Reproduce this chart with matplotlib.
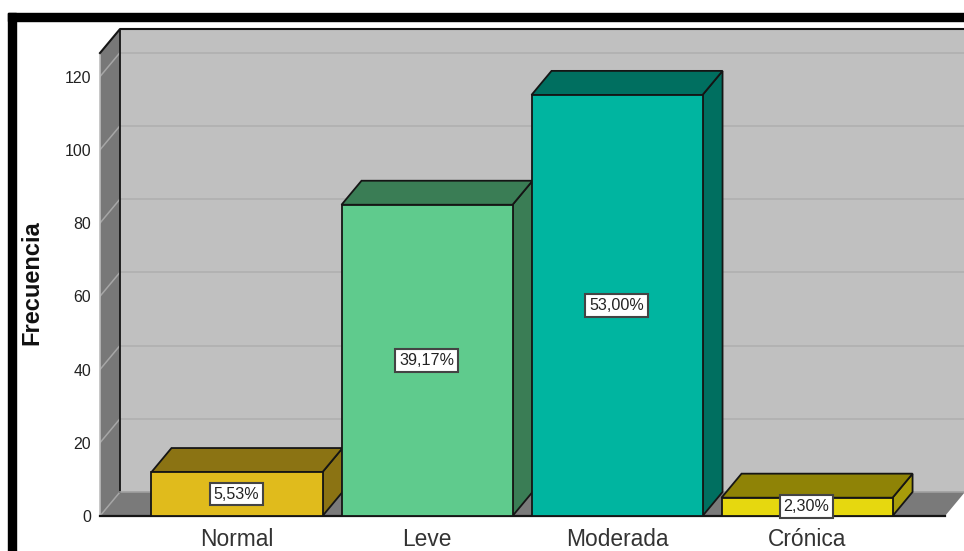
import matplotlib
matplotlib.use('Agg')
import matplotlib.pyplot as plt
from matplotlib.patches import Polygon, Rectangle

plt.rcParams['font.family'] = ['Liberation Sans', 'DejaVu Sans']

# Data
categories = ['Normal', 'Leve', 'Moderada', 'Crónica']
counts = [12, 85, 115, 5]
percents = ['5,53%', '39,17%', '53,00%', '2,30%']
yticks = [0, 20, 40, 60, 80, 100, 120]

front_colors = ['#E0BB1C', '#5FCB8D', '#00B5A0', '#E6D80F']
top_colors = ['#8B7313', '#3A7D55', '#006F60', '#8F8306']
side_colors = ['#8B7313', '#3A7D55', '#006F60', '#A89C0A']

W, H = 964, 551
fig = plt.figure(figsize=(W / 100, H / 100), dpi=100, facecolor='white')

# black frame, only top and left are visible
fig.add_artist(Rectangle((8 / W, 0), 8 / W, 1 - 13 / H, transform=fig.transFigure, color='black'))
fig.add_artist(Rectangle((8 / W, 1 - 21 / H), 1, 8 / H, transform=fig.transFigure, color='black'))

ax = fig.add_axes([100 / W, 35 / H, 864 / W, 487 / H])
ax.patch.set_visible(False)
xmin, xmax = -0.721, 3.826
ytop = 133
ax.set_xlim(xmin, xmax)
ax.set_ylim(0, ytop)

# depth of the fake 3D effect, in data units
dx = 20 / 190
dy = 24 / 3.658
bar_w = 0.9
floor_end = 3.726
edge = '#151515'

# walls and floor
ax.add_patch(Rectangle((xmin + dx, dy), xmax - xmin, ytop - dy, fc='#C0C0C0', ec='none', zorder=1))
ax.add_patch(Polygon([(xmin, 0), (xmin + dx, dy), (xmin + dx, ytop), (xmin, ytop - dy)],
                     fc='#787878', ec='none', zorder=2, clip_on=False))
ax.add_patch(Polygon([(xmin, 0), (xmin + dx, dy), (floor_end + dx, dy), (floor_end, 0)],
                     fc='#7A7A7A', ec='none', zorder=2, clip_on=False))

# gridlines on both walls
for t in yticks[1:]:
    ax.plot([xmin + dx, xmax], [t + dy, t + dy], color='#B0B0B0', lw=1.2, zorder=1.5)
for t in yticks:
    ax.plot([xmin, xmin + dx], [t, t + dy], color='#A6A6A6', lw=1.1, zorder=2.5)

# wall outlines
ax.plot([xmin, xmin], [0, ytop - dy], color='#BDBDBD', lw=1.2, zorder=2.6, clip_on=False)
ax.plot([xmin, xmin + dx, xmax], [ytop - dy, ytop, ytop], color=edge, lw=1.5, zorder=3, clip_on=False)
ax.plot([xmin + dx, xmin + dx], [dy, ytop], color=edge, lw=1.3, zorder=3)
ax.plot([xmin + dx, xmax], [dy, dy], color='#A0A0A0', lw=1.2, zorder=3)
ax.plot([xmin, floor_end], [0, 0], color=edge, lw=1.6, zorder=3, clip_on=False)

# bars
for i, v in enumerate(counts):
    left = i - bar_w / 2
    right = i + bar_w / 2
    ax.add_patch(Polygon([(right, 0), (right + dx, dy), (right + dx, v + dy), (right, v)],
                         fc=side_colors[i], ec=edge, lw=1.3, zorder=4))
    ax.add_patch(Polygon([(left, v), (left + dx, v + dy), (right + dx, v + dy), (right, v)],
                         fc=top_colors[i], ec=edge, lw=1.3, zorder=4))
    ax.bar(i, v, width=bar_w, color=front_colors[i], edgecolor=edge, linewidth=1.3, zorder=5)
    ax.text(i - 0.003, v / 2, percents[i], ha='center', va='center', fontsize=11.6, color='#222222', zorder=6,
            clip_on=False, bbox=dict(boxstyle='square,pad=0.24', fc='white', ec='#444444', lw=1.5))

ax.set_xticks(range(len(categories)))
ax.set_xticklabels(categories, fontsize=16.4, color='#333333')
ax.set_yticks(yticks)
ax.tick_params(axis='x', length=0, pad=9)
ax.tick_params(axis='y', length=0, pad=6.5, labelsize=11.4, labelcolor='#222222')
for s in ax.spines.values():
    s.set_visible(False)

ax.set_ylabel('Frecuencia', fontsize=17, fontweight='bold', color='#111111')
ax.yaxis.set_label_coords(-0.066, 0.479)

fig.savefig('out.png', dpi=100)
